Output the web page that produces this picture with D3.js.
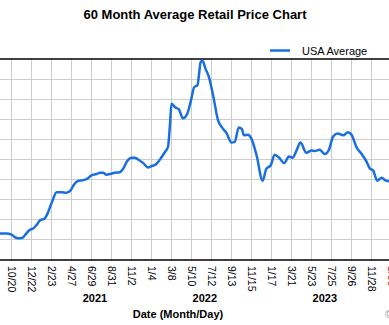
<!DOCTYPE html>
<html>
<head>
<meta charset="UTF-8">
<title>60 Month Average Retail Price Chart</title>
<script src="https://d3js.org/d3.v7.min.js"></script>
<style>
  body { margin: 0; background: #fff; }
  svg { display: block; font-family: "Liberation Sans", Arial, sans-serif; }
</style>
</head>
<body>
<div id="chart"></div>
<script>
// weekly-ish readings of the USA average price line
var dates = ["2020-09-13","2020-10-04","2020-10-20","2020-10-30","2020-11-10","2020-11-24","2020-12-01","2020-12-17","2020-12-27",
  "2021-01-07","2021-01-17","2021-02-02","2021-02-09","2021-02-18","2021-02-26","2021-03-11","2021-03-27","2021-04-11","2021-04-24",
  "2021-05-04","2021-05-15","2021-06-03","2021-06-15","2021-06-29","2021-07-15","2021-07-25","2021-08-05","2021-08-15","2021-08-26",
  "2021-09-10","2021-09-26","2021-10-07","2021-10-19","2021-11-02","2021-11-12","2021-11-23","2021-12-09","2021-12-24",
  "2022-01-04","2022-01-20","2022-02-05","2022-02-15","2022-02-25","2022-03-03","2022-03-08","2022-03-20","2022-03-31","2022-04-13",
  "2022-04-27","2022-05-09","2022-05-18","2022-05-29","2022-06-08","2022-06-13","2022-06-16","2022-06-23","2022-07-04","2022-07-17",
  "2022-08-02","2022-08-14","2022-08-28","2022-09-13","2022-09-23","2022-10-06","2022-10-16","2022-10-22","2022-11-04","2022-11-15",
  "2022-12-01","2022-12-20","2023-01-01","2023-01-14","2023-01-27","2023-02-10","2023-02-26","2023-03-13","2023-03-24","2023-04-06",
  "2023-04-18","2023-05-07","2023-05-23","2023-06-02","2023-06-18","2023-07-04","2023-07-17","2023-07-30","2023-08-13","2023-08-31",
  "2023-09-15","2023-09-26","2023-10-12","2023-10-28","2023-11-12","2023-11-23","2023-12-03","2023-12-16","2023-12-30",
  "2024-01-09","2024-01-22","2024-01-30"];
var usaAverage = [2.17,2.17,2.15,2.11,2.09,2.10,2.14,2.23,2.25,
  2.31,2.38,2.42,2.48,2.60,2.71,2.85,2.85,2.84,2.88,
  2.97,3.03,3.05,3.07,3.13,3.15,3.17,3.17,3.14,3.15,
  3.17,3.18,3.24,3.36,3.42,3.42,3.39,3.33,3.26,
  3.28,3.32,3.43,3.51,3.60,3.95,4.31,4.25,4.22,4.07,
  4.15,4.38,4.58,4.62,5.00,5.02,5.00,4.89,4.75,4.45,
  4.03,3.92,3.83,3.67,3.68,3.92,3.89,3.79,3.80,3.73,
  3.46,3.04,3.24,3.29,3.47,3.42,3.33,3.44,3.42,3.54,
  3.67,3.50,3.54,3.53,3.55,3.48,3.55,3.77,3.82,3.79,
  3.84,3.80,3.59,3.48,3.36,3.24,3.21,3.04,3.09,
  3.05,3.03,3.02];

var tickDates = ["2020-10-20","2020-12-22","2021-02-23","2021-04-27","2021-06-29","2021-08-31","2021-11-02",
  "2022-01-04","2022-03-08","2022-05-10","2022-07-12","2022-09-13","2022-11-15",
  "2023-01-17","2023-03-21","2023-05-23","2023-07-25","2023-09-26","2023-11-28","2024-01-30"];
var yearLabels = ["2021", "2022", "2023"];
var yearAnchors = ["2021-07-10", "2022-06-21", "2023-07-04"];

var width = 389, height = 325;
var parse = d3.utcParse("%Y-%m-%d");
var fmt = d3.utcFormat("%-m/%-d");

var data = dates.map(function(d, i) { return { date: parse(d), value: usaAverage[i] }; });
var ticks = tickDates.map(parse);

var x = d3.scaleUtc()
    .domain([ticks[0], ticks[ticks.length - 1]])
    .range([11.5, 391.5]);
var y = d3.scaleLinear()
    .domain([1.74, 5.04])
    .range([259.5, 59.5]);

var svg = d3.select("#chart").append("svg")
    .attr("width", width)
    .attr("height", height);

svg.append("defs").append("clipPath").attr("id", "plot")
  .append("rect").attr("x", -20).attr("y", 59).attr("width", 440).attr("height", 201);

// title
svg.append("text")
    .attr("x", 195).attr("y", 18.5)
    .attr("text-anchor", "middle")
    .attr("font-size", "13px").attr("font-weight", "bold")
    .text("60 Month Average Retail Price Chart");

// legend
svg.append("line")
    .attr("x1", 270).attr("x2", 290).attr("y1", 50.5).attr("y2", 50.5)
    .attr("stroke", "#1a6fe0").attr("stroke-width", 2.5);
svg.append("text")
    .attr("x", 302).attr("y", 54.5)
    .attr("font-size", "11px")
    .text("USA Average");

// grid
var yGrid = d3.range(11).map(function(i) { return y.domain()[0] + i * (y.domain()[1] - y.domain()[0]) / 10; });
svg.append("g").selectAll("line").data(yGrid.slice(1, 10)).enter().append("line")
    .attr("x1", 0).attr("x2", width)
    .attr("y1", function(d) { return y(d); }).attr("y2", function(d) { return y(d); })
    .attr("stroke", "#cccccc").attr("stroke-width", 1);
svg.append("g").selectAll("line").data(ticks).enter().append("line")
    .attr("x1", function(d) { return x(d); }).attr("x2", function(d) { return x(d); })
    .attr("y1", 59).attr("y2", 260)
    .attr("stroke", "#cccccc").attr("stroke-width", 1);

// frame lines
svg.append("line").attr("x1", 0).attr("x2", width).attr("y1", 59).attr("y2", 59)
    .attr("stroke", "#000").attr("stroke-width", 1.5);
svg.append("line").attr("x1", 0).attr("x2", width).attr("y1", 260).attr("y2", 260)
    .attr("stroke", "#000").attr("stroke-width", 1.5);

// price line
var line = d3.line()
    .x(function(d) { return x(d.date); })
    .y(function(d) { return y(d.value); })
    .curve(d3.curveMonotoneX);
svg.append("path")
    .datum(data)
    .attr("clip-path", "url(#plot)")
    .attr("fill", "none")
    .attr("stroke", "#1a6fe0")
    .attr("stroke-width", 2.5)
    .attr("stroke-linejoin", "round")
    .attr("d", line);

// tick labels
svg.append("g").selectAll("text").data(ticks).enter().append("text")
    .attr("transform", function(d) { return "translate(" + x(d) + ",266) rotate(90)"; })
    .attr("dy", "0.35em")
    .attr("font-size", "10.5px")
    .attr("fill", function(d, i) { return i === ticks.length - 1 ? "#b03030" : "#000"; })
    .text(function(d) { return fmt(d); });

// years
svg.append("g").selectAll("text").data(yearLabels).enter().append("text")
    .attr("x", function(d, i) { return x(parse(yearAnchors[i])); })
    .attr("y", 302)
    .attr("text-anchor", "middle")
    .attr("font-size", "11px").attr("font-weight", "bold")
    .text(function(d) { return d; });

svg.append("text")
    .attr("x", 178).attr("y", 318)
    .attr("text-anchor", "middle")
    .attr("font-size", "11px").attr("font-weight", "bold")
    .text("Date (Month/Day)");

svg.append("text")
    .attr("x", 385).attr("y", 318)
    .attr("font-size", "10px").attr("fill", "#999")
    .text("© GasBuddy");
</script>
</body>
</html>
